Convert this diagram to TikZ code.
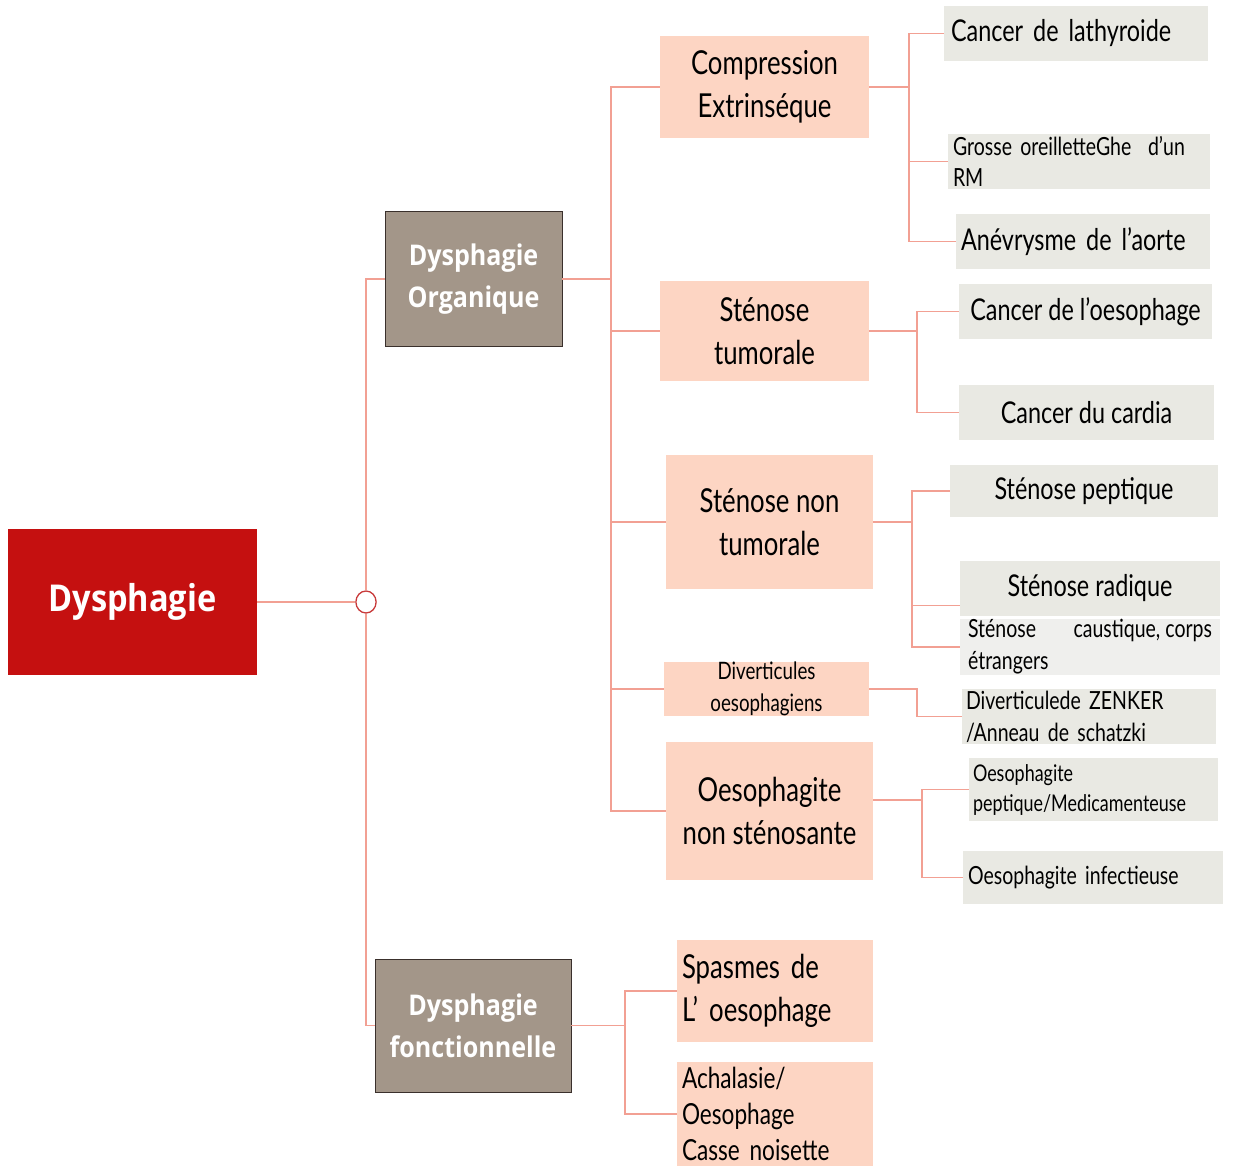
\documentclass[tikz,border=0pt]{standalone}
\usepackage{fontspec}
\setmainfont{Lato}[FakeStretch=0.78]
\newfontfamily\bfam{Open Sans}[FakeStretch=0.88]
\definecolor{rootred}{HTML}{C51010}
\definecolor{catfill}{HTML}{A39689}
\definecolor{catdraw}{HTML}{3A302C}
\definecolor{peach}{HTML}{FDD5C3}
\definecolor{greybox}{HTML}{E9E9E3}
\definecolor{greybox2}{HTML}{EFEFED}
\definecolor{conn}{HTML}{F2A093}
\definecolor{hubred}{HTML}{C83A3A}
\tikzset{
  box/.style={anchor=north west, inner sep=0pt, outer sep=0pt, align=center},
  rootbox/.style={box, fill=rootred, text=white, font=\bfam\bfseries\fontsize{37}{42}\selectfont},
  catbox/.style={box, fill=catfill, draw=catdraw, line width=1pt, text=white, font=\bfam\bfseries\fontsize{28.5}{42}\selectfont},
  peachbox/.style={box, fill=peach, font=\fontsize{33}{43}\selectfont},
  greyb/.style={box, fill=greybox, font=\fontsize{30}{34}\selectfont},
  link/.style={draw=conn, line width=1.3pt},
}
\begin{document}
\begin{tikzpicture}[x=1pt,y=-1pt]
\useasboundingbox (0,0) rectangle (1233,1166);
% root
\node[rootbox, minimum width=249, minimum height=146] (root) at (8,529) {Dysphagie};
\node[circle, draw=hubred, fill=white, line width=1.3pt, minimum width=22, minimum height=22, inner sep=0pt, xscale=0.92] (hub) at (366,602) {};
% categories
\node[catbox, minimum width=177, minimum height=134] (org) at (385,212) {Dysphagie\\Organique};
\node[catbox, minimum width=196, minimum height=133] (fonc) at (375,959) {Dysphagie\\fonctionnelle};
% peach boxes
\node[peachbox, minimum width=209, minimum height=102] (comp) at (660,36) {Compression\\Extrinséque};
\node[peachbox, minimum width=209, minimum height=100] (stt) at (660,281) {Sténose\\tumorale};
\node[peachbox, minimum width=207, minimum height=134] (stnt) at (666,455) {Sténose non\\tumorale};
\node[peachbox, minimum width=205, minimum height=53, font=\fontsize{24}{32}\selectfont] (div) at (664,662) {Diverticules\\oesophagiens};
\node[peachbox, minimum width=207, minimum height=138] (oes) at (666,742) {Oesophagite\\non sténosante};
\node[peachbox, minimum width=196, minimum height=102, text width=186, align=left] (spa) at (677,940) {Spasmes de\\L' oesophage};
\node[peachbox, minimum width=196, minimum height=104, text width=186, align=left, font=\fontsize{29}{36}\selectfont] (ach) at (677,1062) {Achalasie/\\Oesophage\\Casse noisette};
% grey boxes
\node[greyb, minimum width=264, minimum height=55, text width=250, align=left] (c1) at (944,6) {Cancer de lathyroide};
\node[greyb, minimum width=262, minimum height=55, text width=252, align=left, font=\fontsize{25}{31}\selectfont] (c2) at (948,134) {Grosse oreilletteGhe\ \ d'un\\RM};
\node[greyb, minimum width=254, minimum height=55, text width=244, align=left] (c3) at (956,214) {Anévrysme de l'aorte};
\node[greyb, minimum width=253, minimum height=55] (c4) at (959,284) {Cancer de l'oesophage};
\node[greyb, minimum width=255, minimum height=55] (c5) at (959,385) {Cancer du cardia};
\node[greyb, minimum width=268, minimum height=52] (c6) at (950,465) {Sténose peptique};
\node[greyb, minimum width=260, minimum height=55] (c7) at (960,561) {Sténose radique};
\node[greyb, fill=greybox2, minimum width=260, minimum height=56, text width=244, align=justify, font=\fontsize{25}{32}\selectfont] (c8) at (960,619) {Sténose\hfill caustique, corps\\étrangers};
\node[greyb, minimum width=254, minimum height=55, text width=246, align=left, font=\fontsize{25}{32}\selectfont] (c9) at (962,689) {Diverticulede ZENKER\\/Anneau de schatzki};
\node[greyb, minimum width=249, minimum height=63, text width=241, align=left, font=\fontsize{23}{30}\selectfont] (c10) at (969,758) {Oesophagite\\peptique/Medicamenteuse};
\node[greyb, minimum width=260, minimum height=53, text width=250, align=left, font=\fontsize{25}{30}\selectfont] (c11) at (963,851) {Oesophagite infectieuse};
% connectors
\draw[link] (root.east) -- (hub.west);
\draw[link] (hub.north) |- (org.west);
\draw[link] (hub.south) |- (fonc.west);
\foreach \t in {comp,stt,stnt,div,oes}{\draw[link] (org.east) -- ++(49,0) |- (\t.west);}
\foreach \t in {spa,ach}{\draw[link] (fonc.east) -- ++(54,0) |- (\t.west);}
\foreach \t in {c1,c2,c3}{\draw[link] (comp.east) -- ++(40,0) |- (\t.west);}
\foreach \t in {c4,c5}{\draw[link] (stt.east) -- ++(48,0) |- (\t.west);}
\draw[link] (stnt.east) -- ++(39,0) |- (c6.west);
\draw[link] (stnt.east) -- ++(39,0) |- ([yshift=-17pt]c7.west);
\draw[link] (stnt.east) -- ++(39,0) |- (c8.west);
\draw[link] (div.east) -- ++(48,0) |- (c9.west);
\foreach \t in {c10,c11}{\draw[link] ([yshift=11pt]oes.east) -- ++(49,0) |- (\t.west);}
\end{tikzpicture}
\end{document}
